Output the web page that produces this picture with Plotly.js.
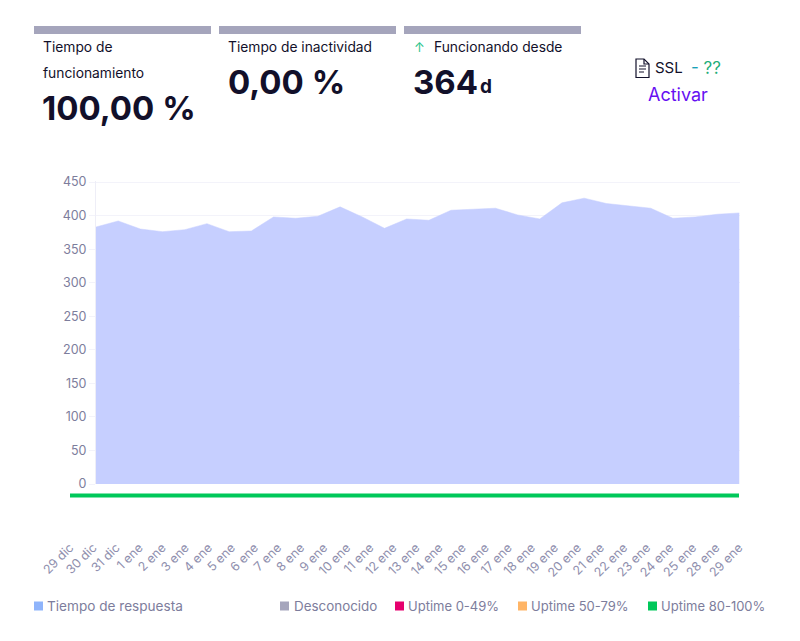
<!DOCTYPE html>
<html><head><meta charset="utf-8">
<script src="https://cdn.plot.ly/plotly-3.0.1.min.js"></script>
<style>html,body{margin:0;padding:0;background:#fff}</style>
</head><body><div id="chart" style="width:800px;height:641px"></div>
<script>
var dates=["29 dic","30 dic","31 dic","1 ene","2 ene","3 ene","4 ene","5 ene","6 ene","7 ene","8 ene","9 ene","10 ene","11 ene","12 ene","13 ene","14 ene","15 ene","16 ene","17 ene","18 ene","19 ene","20 ene","21 ene","22 ene","23 ene","24 ene","25 ene","28 ene","29 ene"];
var responseTime=[383,392,380,376,379,388,376,377,398,396,399,413,398,381,395,393,408,410,411,401,395,419,426,418,415,411,396,398,402,404];
var uptime=[100,100,100,100,100,100,100,100,100,100,100,100,100,100,100,100,100,100,100,100,100,100,100,100,100,100,100,100,100,100];
var legendLabels=["Tiempo de respuesta","Desconocido","Uptime 0-49%","Uptime 50-79%","Uptime 80-100%"];
var legendColors=["#8fb4fb","#a5a5bc","#e6006e","#ffb566","#00c85a"];
var yTicks=[0,50,100,150,200,250,300,350,400,450];
var idx=dates.map(function(_,i){return i;});
var W=800,H=641;
function px(x){return x/W;} function py(y){return 1-y/H;}
var FONT='Inter, "Noto Sans", sans-serif', INK='#12102a', MUTED='#7d7d9c';
function txt(x,y,t,size,color,anchor,weight){
  return {xref:'paper',yref:'paper',x:px(x),y:py(y),text:t,showarrow:false,xanchor:anchor||'left',yanchor:'middle',
    font:{family:FONT,size:size,color:color||INK,weight:weight||400},borderpad:0};
}
var shapes=[[34,211],[219,396],[404,581]].map(function(b){
  return {type:'rect',xref:'paper',yref:'paper',x0:px(b[0]),x1:px(b[1]),y0:py(34),y1:py(26),fillcolor:'#a5a5bc',line:{width:0}};
});
function pth(p){return p.map(function(c,i){return (i?'L':'M')+px(c[0])+','+py(c[1]);}).join(' ');}
var iconLine={color:INK,width:1.2};
shapes.push({type:'path',xref:'paper',yref:'paper',line:iconLine,path:pth([[636,59],[644,59],[649,64],[649,77.5],[636,77.5]])+' Z'});
shapes.push({type:'path',xref:'paper',yref:'paper',line:iconLine,path:pth([[644,59],[644,64],[649,64]])});
[[639,66,646],[639,69,646],[639,72,644]].forEach(function(l){
  shapes.push({type:'line',xref:'paper',yref:'paper',x0:px(l[0]),x1:px(l[2]),y0:py(l[1]),y1:py(l[1]),line:{color:INK,width:1}});
});
var legendX=[34,280,395,518,648], legendTextX=[46,293,407,530,660], legendSizes=[13.6,13.4,13,13,13];
legendLabels.forEach(function(_,i){
  shapes.push({type:'rect',xref:'paper',yref:'paper',x0:px(legendX[i]),x1:px(legendX[i]+9),y0:py(610.5),y1:py(601.5),fillcolor:legendColors[i],line:{width:0}});
});
var ann=[
 txt(42,47,'Tiempo de',13.8,INK),
 txt(42,73,'funcionamiento',13.8,INK),
 txt(41,108,'100,00 %',33,INK,'left',700),
 txt(227,47,'Tiempo de inactividad',13.8,INK),
 txt(227,82,'0,00 %',33,INK,'left',700),
 txt(419,47,'↑',13,'#2bc48a','center'),
 txt(433,47,'Funcionando desde',13.8,INK),
 txt(412,82,'364',33,INK,'left',700),
 txt(479,87,'d',19,INK,'left',700),
 txt(654,68,'SSL',15,INK),
 txt(690,68,'<span style="color:#17a2b8">-</span> <span style="color:#1fae7a">??</span>',17,INK),
 txt(677.5,94.5,'Activar',18,'#6610f2','center')
];
legendLabels.forEach(function(l,i){ann.push(txt(legendTextX[i],606,l,legendSizes[i],MUTED));});
var traces=[
 {x:idx,y:responseTime,type:'scatter',mode:'lines',fill:'tozeroy',fillcolor:'#c6cfff',line:{color:'#c6cfff',width:0.5},xaxis:'x',yaxis:'y',hoverinfo:'skip'},
 {x:idx,y:uptime,type:'scatter',mode:'lines',line:{color:'#00c85a',width:4},xaxis:'x2',yaxis:'y2',hoverinfo:'skip'}
];
var layout={
 width:W,height:H,margin:{l:0,r:0,t:0,b:0},paper_bgcolor:'#fff',plot_bgcolor:'rgba(0,0,0,0)',showlegend:false,
 font:{family:FONT,color:MUTED},
 xaxis:{domain:[px(96),px(739.5)],range:[0,29],anchor:'y',showgrid:false,zeroline:false,showticklabels:false,ticks:'',showline:false},
 yaxis:{domain:[py(484),py(180.7)],range:[0,452],anchor:'x',tickvals:yTicks,ticktext:yTicks.map(String),gridcolor:'#f3f3fa',gridwidth:1,zeroline:false,
   ticks:'outside',ticklen:6,tickcolor:'#f3f3fa',tickfont:{family:FONT,size:12.5,color:MUTED},showline:true,linecolor:'#eeeef7',linewidth:1},
 xaxis2:{domain:[px(70),px(739)],range:[0,29],anchor:'free',position:py(537),tickvals:idx,ticktext:dates,tickangle:-45,
   tickfont:{family:FONT,size:12.5,color:'#8f8fae'},showgrid:false,zeroline:false,ticks:'',showline:false},
 yaxis2:{domain:[py(505.5),py(485.5)],range:[0,200],anchor:'x2',showgrid:false,zeroline:false,showticklabels:false,ticks:'',showline:false},
 shapes:shapes,annotations:ann
};
Plotly.newPlot('chart',traces,layout,{displayModeBar:false,staticPlot:true});
</script></body></html>
